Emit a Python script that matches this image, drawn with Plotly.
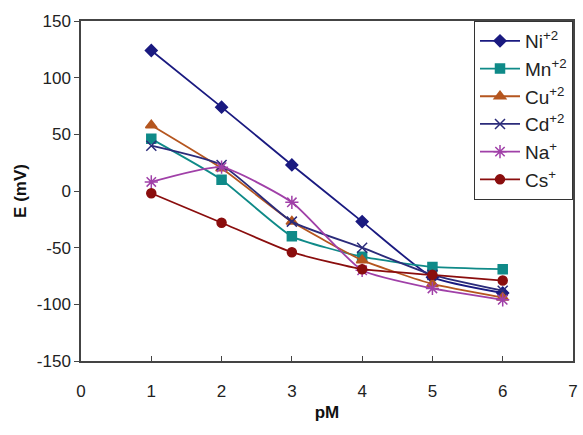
import plotly.graph_objects as go

pM = [1, 2, 3, 4, 5, 6]
ni = [124, 74, 23, -27, -76, -90]
mn = [46, 10, -40, -58, -67, -69]
cu = [58, 20, -27, -61, -82, -94]
cd = [40, 23, -27, -50, -74, -88]
na = [8, 21, -10, -70, -86, -96]
cs = [-2, -28, -54, -69, -74, -79]

x_ticks = [0, 1, 2, 3, 4, 5, 6, 7]
y_ticks = [-150, -100, -50, 0, 50, 100, 150]
y_ticktext = ["-150", "-100", "-50", "0", "50", "100", "150"]

series = [
    ("Ni<sup>+2</sup>", ni, "#1a1a80", "diamond", 9),
    ("Mn<sup>+2</sup>", mn, "#0f8a88", "square", 9),
    ("Cu<sup>+2</sup>", cu, "#b5561f", "triangle-up", 10),
    ("Cd<sup>+2</sup>", cd, "#2b2b7a", "x-thin-open", 10),
    ("Na<sup>+</sup>", na, "#a040a8", "asterisk-open", 11),
    ("Cs<sup>+</sup>", cs, "#8a0d0d", "circle", 9),
]

fig = go.Figure()
for name, ys, col, sym, sz in series:
    fig.add_trace(go.Scatter(
        x=pM, y=ys, name=name, mode="lines+markers",
        line=dict(color=col, width=1.8, shape="spline", smoothing=0.5),
        marker=dict(symbol=sym, size=sz, color=col, line=dict(color=col, width=1.5)),
    ))

fig.update_layout(
    width=583, height=435,
    margin=dict(l=81, r=10, t=21, b=74, autoexpand=False),
    paper_bgcolor="white", plot_bgcolor="white",
    font=dict(family="Liberation Sans, Arial", size=17, color="#222"),
    showlegend=True,
    legend=dict(
        x=1, xanchor="right", y=1, yanchor="top",
        bordercolor="#333", borderwidth=1, bgcolor="white",
        font=dict(size=19), tracegroupgap=0, itemwidth=40,
    ),
)
fig.update_xaxes(
    range=[0, 7], tickvals=x_ticks, ticks="inside", ticklen=5,
    ticklabelstandoff=14, ticklabeloverflow="allow",
    showline=True, linecolor="#444", linewidth=1.5, mirror=True,
    showgrid=False, zeroline=False, automargin=False,
    title=dict(text="<b>pM</b>", font=dict(size=17, color="#111"), standoff=6),
)
fig.update_yaxes(
    range=[-150, 150], tickvals=y_ticks, ticktext=y_ticktext,
    ticks="outside", ticklen=5,
    showline=True, linecolor="#444", linewidth=1.5, mirror=True,
    showgrid=False, zeroline=False, automargin=False,
    title=dict(text="<b>E (mV)</b>", font=dict(size=17, color="#111"), standoff=6),
)

fig.write_html("out.html",
               config={"displayModeBar": False},
               post_script="document.body.style.margin='0';document.body.style.overflow='hidden';")
